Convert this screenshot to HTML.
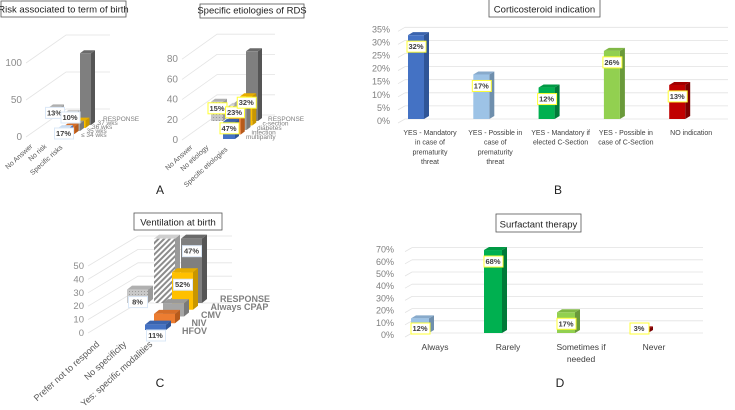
<!DOCTYPE html>
<html><head><meta charset="utf-8">
<style>
html,body{margin:0;padding:0;background:#fff;}
svg{display:block;font-family:"Liberation Sans",sans-serif;}
</style></head>
<body>
<svg id="fig" width="735" height="410" viewBox="0 0 735 410" xmlns="http://www.w3.org/2000/svg">
<defs>
<pattern id="stripe" width="4" height="4" patternUnits="userSpaceOnUse" patternTransform="rotate(45)">
<rect width="4" height="4" fill="#fff"/><rect width="2" height="4" fill="#8c8c8c"/></pattern>
<pattern id="speck" width="3" height="3" patternUnits="userSpaceOnUse">
<rect width="3" height="3" fill="#c8c8c8"/><rect width="1" height="1" fill="#9a9a9a"/></pattern>
</defs>
</svg>
<script>
// ---------- Panel B data ----------
const bCats=[["YES - Mandatory","in case of","prematurity","threat"],["YES - Possible in","case of","prematurity","threat"],["YES - Mandatory if","elected C-Section"],["YES - Possible in","case of C-Section"],["NO indication"]];
const bVals=[32,17,12,26,13];
const bTicks=[0,5,10,15,20,25,30,35];
// ---------- Panel D data ----------
const dCats=[["Always"],["Rarely"],["Sometimes if","needed"],["Never"]];
const dVals=[12,68,17,3];
const dTicks=[0,10,20,30,40,50,60,70];
// ---------- Panel A-left data ----------
const a1Cats=["No Answer","No risk","Specific risks"];
const a1Series=["≤ 34 wks","35 wks","36 wks","37 wks","RESPONSE"];
const a1Ticks=[0,50,100];
const a1Bars=[[0,4,13],[1,4,11],[2,0,12],[2,1,10],[2,2,10],[2,3,10],[2,4,97]];
const a1Labels=["13%","10%","17%","","","",""];
// ---------- Panel A-right data ----------
const a2Cats=["No Answer","No etiology","Specific etiologies"];
const a2Series=["multiparity","infection","diabetes","c-section","RESPONSE"];
const a2Ticks=[0,20,40,60,80];
const a2Bars=[[0,4,19],[1,4,15],[2,0,17],[2,1,21],[2,2,27],[2,3,29],[2,4,69]];
const a2Labels=["15%","23%","47%","","","32%",""];
// ---------- Panel C data ----------
const cCats=["Prefer not to respond","No specificity","Yes: specific modalities"];
const cSeries=["HFOV","NIV","CMV","Always CPAP","RESPONSE"];
const cTicks=[0,10,20,30,40,50];
const cBars=[[0,4,10],[1,4,48],[2,0,4],[2,1,7],[2,2,10],[2,3,28],[2,4,48]];
const cLabels=["8%","","11%","","","52%","47%"];

const svg=document.getElementById('fig');
const NS="http://www.w3.org/2000/svg";
function mk(tag,attrs,parent){const e=document.createElementNS(NS,tag);for(const k in attrs)e.setAttribute(k,attrs[k]);(parent||svg).appendChild(e);return e;}
function txt(x,y,s,size,attrs,parent){const t=mk('text',Object.assign({x:x,y:y,'font-size':size,fill:'#595959'},attrs||{}),parent);t.textContent=s;return t;}
function bar3d(g,x,yb,w,h,c,side,top,d,dd){
  mk('polygon',{points:`${x+w},${yb-h} ${x+w+d},${yb-h-dd} ${x+w+d},${yb-dd} ${x+w},${yb}`,fill:side},g);
  mk('polygon',{points:`${x},${yb-h} ${x+d},${yb-h-dd} ${x+w+d},${yb-h-dd} ${x+w},${yb-h}`,fill:top},g);
  mk('rect',{x:x,y:yb-h,width:w,height:h,fill:c},g);
}
function valBox(g,cx,y,s,border){
  mk('rect',{x:cx-9,y:y-8,width:19,height:11,fill:'#fff',stroke:border||'#ffff33','stroke-width':1},g);
  txt(cx,y,s,7.5,{'text-anchor':'middle','font-weight':'bold',fill:'#404040'},g);
}
function titleBox(x,y,w,h,s,name){
  const g=mk('g',{});
  
  
  mk('rect',{x:x,y:y,width:w,height:h,fill:'#fff',stroke:'#555','stroke-width':0.8},g);
  txt(x+w/2,y+h-4.5,s,9.5,{'text-anchor':'middle',fill:'#222'},g);
}
function panelLetter(x,y,s){const t=txt(x,y,s,12,{'text-anchor':'middle',fill:'#222'});
  
  }

function flatChart(o){
  const g=mk('g',{});
  
  
  const yS=v=>o.base-v*o.k;
  o.ticks.forEach(t=>{
    const y=yS(t);
    mk('line',{x1:o.gx0-7,y1:y+4,x2:o.gx0,y2:y,stroke:'#e2e2e2','stroke-width':0.8},g);
    mk('line',{x1:o.gx0,y1:y,x2:o.gx1,y2:y,stroke:'#e2e2e2','stroke-width':0.8},g);
    const tl=txt(o.tx,y+5,t+'%',9,{'text-anchor':'end',fill:'#7f7f7f'},g);
    
    
  });
  o.vals.forEach((v,i)=>{
    const x=o.x0+i*o.step;
    const bg=mk('g',{},g);
    
    
    bar3d(bg,x,o.base,o.w,v*o.k,o.colors[i][0],o.colors[i][1],o.colors[i][2],5,3);
    const ly=Math.min(yS(v)+14,o.base-2);
    valBox(bg,x+o.w/2,ly,v+'%');
    o.cats[i].forEach((line,j)=>{
      const t=txt(x+o.labOff,o.labY+j*o.labLH,line,o.lfs,{'text-anchor':'middle',fill:'#404040'},g);
      
      
    });
  });
}
flatChart({name:'corticosteroid-chart',vals:bVals,cats:bCats,ticks:bTicks,base:119,k:2.62,x0:408,step:65.3,w:16,gx0:405,gx1:728,tx:390,labOff:22,labY:135,labLH:9.7,lfs:7,
 colors:[['#4472c4','#2f5597','#3a63ad'],['#9dc3e6','#6f8fad','#88aacb'],['#00b050','#007a38','#009944'],['#92d050','#6a9a3a','#80b846'],['#c00000','#7a0000','#a00000']]});
flatChart({name:'surfactant-chart',vals:dVals,cats:dCats,ticks:dTicks,base:333,k:1.22,x0:411,step:73,w:18,gx0:412,gx1:703,tx:394,labOff:24,labY:350,labLH:12,lfs:8.5,
 colors:[['#9dc3e6','#6f8fad','#88aacb'],['#00b050','#007a38','#009944'],['#92d050','#6a9a3a','#80b846'],['#c00000','#7a0000','#a00000']]});

const serColors=[['#4472c4','#2f5597','#3a63ad'],['#ed7d31','#b75b1c','#d66e28'],['#a5a5a5','#7a7a7a','#999'],['#ffc000','#c89600','#e6ad00'],['#7f7f7f','#555','#6a6a6a']];
function depthChart(o){
  const g=mk('g',{});
  
  
  const yS=v=>o.axY0-v*o.k;
  o.ticks.forEach(t=>{
    const y=yS(t);
    mk('polyline',{points:`${o.ax+4},${y} ${o.ax+4+o.gdx},${y-o.gdy} ${o.gx1},${y-o.gdy}`,fill:'none',stroke:'#e4e4e4','stroke-width':0.8},g);
    const tl=txt(o.ax,y+3,String(t),o.fs,{'text-anchor':'end',fill:'#8c8c8c'},g);
    
    
  });
  const pos=(c,s)=>[o.bx+s*o.sdx-(2-c)*o.cdx, o.by-s*o.sdy-(2-c)*o.cdy];
  const order=o.bars.map((b,i)=>i).sort((a,b)=>(o.bars[b][1]-o.bars[a][1])||(o.bars[a][0]-o.bars[b][0]));
  const pending=[];
  order.forEach(i=>{
    const [c,s,v]=o.bars[i];
    const [x,y]=pos(c,s);
    const bg=mk('g',{},g);
    
    
    let col=serColors[s];
    if(c===0) col=['url(#speck)','#9a9a9a','#b0b0b0'];
    if(c===1) col=['url(#stripe)','#9a9a9a','#cfcfcf'];
    if(c===2&&s===0&&o.lightFirst) col=['#dbe8f7','#4472c4','#c9dcf2'];
    bar3d(bg,x,y,o.w,v*o.k,col[0],col[1],col[2],o.d,o.dd);
    if(o.labels[i]) pending.push([x+o.w/2,Math.min(y-v*o.k+o.labDy, y+o.labMax),o.labels[i]]);
  });
  const lg=mk('g',{},g);
  
  
  pending.forEach(p=>valBox(lg,p[0],p[1],p[2],o.labBorder));
  o.cats.forEach((c,i)=>{
    const [x,y]=o.catPos[i];
    const t=txt(x,y,c,o.cfs,{'text-anchor':'end',fill:'#595959',transform:`rotate(-42 ${x} ${y})`},g);
    
    
  });
  o.series.forEach((s,i)=>{
    const x=o.serX0+i*o.serDx, y=o.serY0-i*o.serDy;
    const t=txt(x,y,s,o.sfs,{fill:'#7f7f7f','font-weight':o.sbold?'bold':'normal'},g);
    
    
  });
}
depthChart({name:'risk-term-chart',cats:a1Cats,series:a1Series,ticks:a1Ticks,bars:a1Bars,labels:a1Labels,
 axY0:137,k:0.74,ax:22,gdx:40,gdy:28,gx1:110,fs:10,bx:58,by:137,sdx:5.5,sdy:3,cdx:15.5,cdy:4,w:11,d:4,dd:3,labDy:8,labMax:-1,lightFirst:true,labBorder:'#dbe8f7',
 catPos:[[33,147],[47,147],[63,148]],cfs:7,serX0:81,serY0:137,serDx:5.5,serDy:4,sfs:6.5,sbold:false});
depthChart({name:'etiologies-chart',cats:a2Cats,series:a2Series,ticks:a2Ticks,bars:a2Bars,labels:a2Labels,
 axY0:140,k:1.01,ax:178,gdx:35,gdy:25,gx1:275,fs:10,bx:223,by:139,sdx:5.75,sdy:4.5,cdx:17.5,cdy:0,w:12,d:4,dd:3,labDy:9,labMax:-2,lightFirst:false,labBorder:'#ffff33',
 catPos:[[193,148],[209,148],[228,150]],cfs:7,serX0:246,serY0:139,serDx:5.5,serDy:4.5,sfs:6.5,sbold:false});
depthChart({name:'ventilation-chart',cats:cCats,series:cSeries,ticks:cTicks,bars:cBars,labels:cLabels,
 axY0:333,k:1.34,ax:84,gdx:50,gdy:30,gx1:232,fs:9.5,bx:145,by:330,sdx:9,sdy:6.75,cdx:27,cdy:0,w:21,d:5,dd:4,labDy:15,labMax:8,lightFirst:false,labBorder:'#dbe8f7',
 catPos:[[100,345],[127,345],[153,345]],cfs:9,serX0:182,serY0:334,serDx:9.5,serDy:8,sfs:9,sbold:true});

titleBox(1,1,125,16,'Risk associated to term of birth','title-risk-term');
titleBox(200,4,104,14,'Specific etiologies of RDS','title-etiologies');
titleBox(489,-1,111,18,'Corticosteroid indication','title-corticosteroid');
titleBox(134,213,88,17,'Ventilation at birth','title-ventilation');
titleBox(496,214,85,18,'Surfactant therapy','title-surfactant');
panelLetter(160,194,'A');
panelLetter(558,194,'B');
panelLetter(160,387,'C');
panelLetter(560,387,'D');
</script>
</body></html>
